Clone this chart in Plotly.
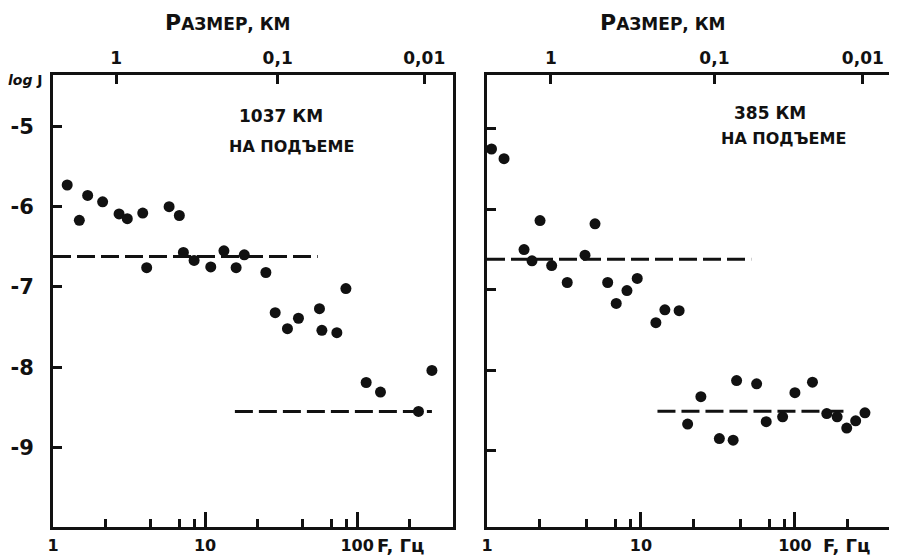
import plotly.graph_objects as go

# ---------------- data ----------------
# Left panel: 1037 km, на подъеме
f_left = [1.24, 1.49, 1.69, 2.12, 2.72, 3.08, 3.89, 4.13, 5.80, 6.77, 7.20, 8.47, 10.9, 13.3,
          16.0, 18.1, 25.1, 28.9, 34.8, 41.1, 56.5, 58.6, 73.5, 84.3, 114.6, 142.3, 253, 310]
logj_left = [-5.73, -6.17, -5.86, -5.94, -6.09, -6.15, -6.08, -6.76, -6.00, -6.11, -6.57, -6.67,
             -6.75, -6.55, -6.76, -6.60, -6.82, -7.32, -7.52, -7.39, -7.27, -7.54, -7.57, -7.02,
             -8.19, -8.31, -8.55, -8.04]
# Right panel: 385 km, на подъеме
f_right = [1.07, 1.29, 2.21, 5.03, 1.74, 1.96, 2.63, 4.33, 3.32, 6.08, 9.46, 8.11, 6.91, 12.5,
           14.3, 17.7, 20.1, 24.5, 32.3, 39.7, 41.8, 56.4, 65.1, 83.2, 100, 130, 161, 188, 217, 248, 285]
logj_right = [-5.25, -5.37, -6.14, -6.18, -6.50, -6.64, -6.70, -6.57, -6.91, -6.91, -6.86, -7.01,
              -7.17, -7.41, -7.25, -7.26, -8.67, -8.33, -8.85, -8.87, -8.13, -8.17, -8.64, -8.58,
              -8.28, -8.15, -8.54, -8.58, -8.72, -8.63, -8.53]

# dashed mean levels: (F_start, F_end, level)
left_levels = [(1.0, 55, -6.62), (15.7, 310, -8.55)]
right_levels = [(1.0, 52, -6.62), (12.8, 222, -8.51)]

# axis ticks
major_f = [1, 10, 100]
major_f_text = ["1", "10", "100"]
minor_f = [2.2, 4.4, 6.8, 8.5, 22, 44, 68, 85, 220]
y_ticks = [-9, -8, -7, -6, -5]
y_ticks_text = ["-9", "-8", "-7", "-6", "-5"]
size_km_text = ["1", "0,1", "0,01"]
size_tick_f = [2.6, 30, 276]

titles_left = ["1037 КМ", "НА ПОДЪЕМЕ"]
titles_right = ["385 КМ", "НА ПОДЪЕМЕ"]

# ---------------- figure ----------------
# the page body has an 8px default margin; size the figure so it fills the 897x556 window
OFF = 8
W, H = 897 - OFF, 556 - OFF
FONT = "DejaVu Sans"
BLACK = "#111111"


def fx(px):
    return (px - OFF) / W


def fy(py):
    return 1 - (py - OFF) / H


fig = go.Figure()


def add_panel(xa, ya, f, v, levels):
    fig.add_trace(go.Scatter(x=f, y=v, mode="markers", xaxis=xa, yaxis=ya,
                             marker=dict(color=BLACK, size=11, line=dict(width=0)),
                             showlegend=False, hoverinfo="skip"))
    for (a, b, lv) in levels:
        fig.add_trace(go.Scatter(x=[a, b], y=[lv, lv], mode="lines", xaxis=xa, yaxis=ya,
                                 line=dict(color=BLACK, width=3, dash="18px,6px"),
                                 showlegend=False, hoverinfo="skip"))


add_panel("x", "y", f_left, logj_left, left_levels)
add_panel("x2", "y2", f_right, logj_right, right_levels)

yd = [fy(527), fy(75)]
xd1 = [fx(53), fx(453)]
xd2 = [fx(487), fx(895)]

common_x = dict(type="log", showgrid=False, zeroline=False, showline=True, linecolor=BLACK,
                linewidth=3, mirror=True, ticks="inside", ticklen=15, tickwidth=3, tickcolor=BLACK,
                tickvals=major_f, ticktext=major_f_text, automargin=False,
                tickfont=dict(family=FONT, size=16, color=BLACK, weight="bold"),
                ticklabelstandoff=2,
                minor=dict(tickvals=minor_f, ticks="inside", ticklen=8, tickwidth=3, tickcolor=BLACK))
common_top = dict(type="log", side="top", showgrid=False, zeroline=False, showline=False,
                  ticks="inside", ticklen=9, tickwidth=3, tickcolor=BLACK, automargin=False,
                  tickvals=size_tick_f, ticktext=size_km_text,
                  tickfont=dict(family=FONT, size=17, color=BLACK, weight="bold"),
                  ticklabelstandoff=7)
common_y = dict(showgrid=False, zeroline=False, showline=True, linecolor=BLACK, linewidth=3,
                mirror=True, ticks="inside", ticklen=9, tickwidth=3, tickcolor=BLACK,
                tickvals=y_ticks, ticktext=y_ticks_text, automargin=False,
                tickfont=dict(family=FONT, size=21, color=BLACK, weight="bold"),
                ticklabelstandoff=12)

fig.update_layout(
    width=W, height=H, margin=dict(l=0, r=0, t=0, b=0),
    paper_bgcolor="white", plot_bgcolor="white",
    xaxis=dict(common_x, domain=xd1, range=[0, 2.63], anchor="y"),
    yaxis=dict(common_y, domain=yd, range=[-9.99, -4.36], anchor="x"),
    xaxis2=dict(common_x, domain=xd2, range=[0, 2.65], anchor="y2"),
    yaxis2=dict(common_y, domain=yd, range=[-9.95, -4.33], anchor="x2", showticklabels=False),
    xaxis3=dict(common_top, domain=xd1, range=[0, 2.63], anchor="y", overlaying="x"),
    xaxis4=dict(common_top, domain=xd2, range=[0, 2.65], anchor="y2", overlaying="x2"),
)
# invisible traces to activate the top (size) axes
fig.add_trace(go.Scatter(x=[1], y=[-20], xaxis="x3", yaxis="y", mode="markers",
                         showlegend=False, hoverinfo="skip", marker=dict(opacity=0)))
fig.add_trace(go.Scatter(x=[1], y=[-20], xaxis="x4", yaxis="y2", mode="markers",
                         showlegend=False, hoverinfo="skip", marker=dict(opacity=0)))


def ann(text, px, py, size=16, xanchor="center"):
    fig.add_annotation(text=text, x=fx(px), y=fy(py), xref="paper", yref="paper",
                       showarrow=False, xanchor=xanchor, yanchor="middle",
                       font=dict(family=FONT, size=size, color=BLACK, weight="bold"))


size_title = "Р<span style='font-size:17px'>АЗМЕР, КМ</span>"
ann(size_title, 228, 22, size=22)
ann(size_title, 663, 22, size=22)
ann("<i>log</i> J", 6, 80, size=14, xanchor="left")
ann(titles_left[0], 281, 116, size=17)
ann(titles_left[1], 291, 146, size=16)
ann(titles_right[0], 770, 113, size=17)
ann(titles_right[1], 783, 138, size=16)
ann("F, Гц", 400, 545, size=18)
ann("F, Гц", 846, 545, size=18)

fig.write_html("out.html")
